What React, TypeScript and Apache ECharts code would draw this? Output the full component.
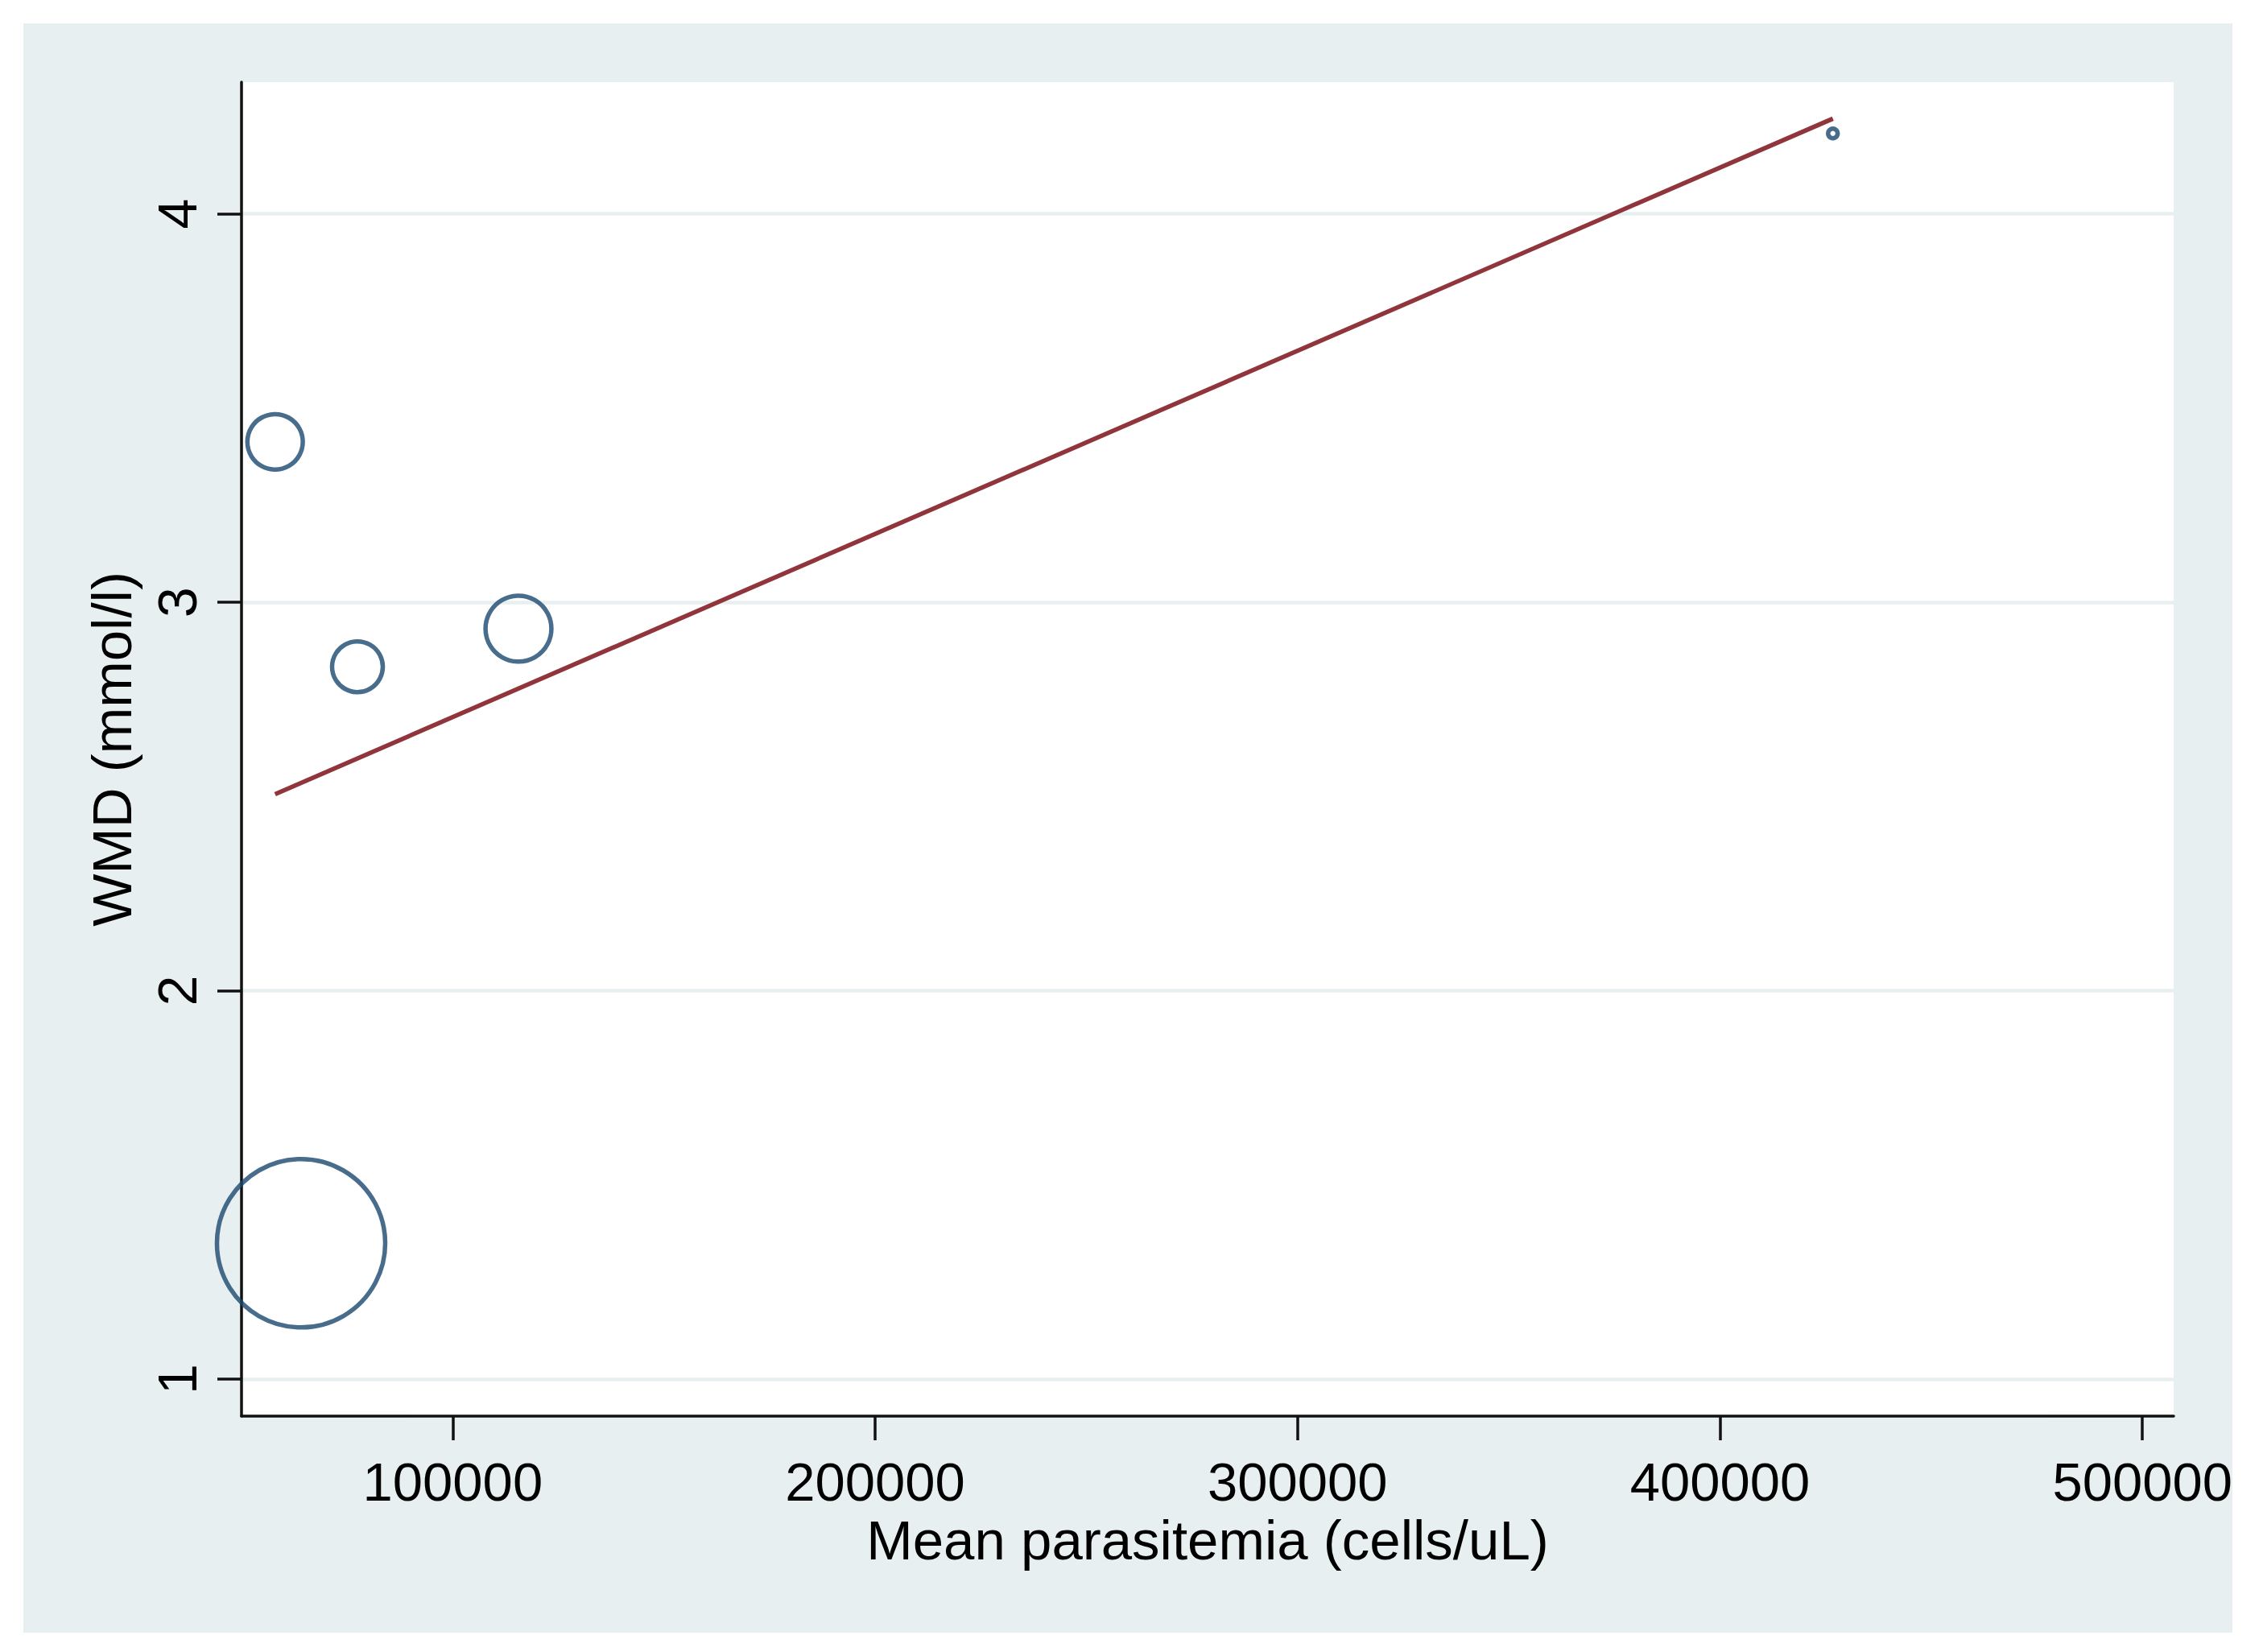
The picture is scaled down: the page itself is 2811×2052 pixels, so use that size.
import React, { useEffect, useRef } from "react";
import * as echarts from "echarts";

// Study-level data (meta-regression bubble plot)
const parasitemia = [57947, 77444, 115561, 64103, 426730];
const wmd = [3.413, 2.834, 2.932, 1.35, 4.207];
const studyWeight = [8.0, 6.7, 11.3, 73.7, 0.24];

// Fitted regression line end points
const fitX = [57947, 426730];
const fitY = [2.506, 4.245];

// Axis ticks and ranges
const xTicks = [100000, 200000, 300000, 400000, 500000];
const yTicks = [1, 2, 3, 4];
const xRange = [50000, 507400];
const yRange = [0.905, 4.339];

const xTitle = "Mean parasitemia (cells/uL)";
const yTitle = "WMD (mmol/l)";

const FONT = "'Liberation Sans', Arial, sans-serif";
const BG = "#e8eff1";

export default function App() {
  const ref = useRef<HTMLDivElement>(null);

  useEffect(() => {
    if (!ref.current) return;
    const chart = echarts.init(ref.current, undefined, { renderer: "svg" });
    const sizeOf = (w: number) => 24.35 * Math.sqrt(w);

    chart.setOption({
      animation: false,
      grid: {
        left: 300,
        right: 111,
        top: 102,
        bottom: 293,
        show: true,
        backgroundColor: "#ffffff",
        borderWidth: 0,
      },
      xAxis: {
        type: "value",
        min: xRange[0],
        max: xRange[1],
        z: 8,
        name: xTitle,
        nameLocation: "middle",
        nameGap: 110,
        nameTextStyle: { fontFamily: FONT, fontSize: 69, color: "#000" },
        axisLine: { show: true, onZero: false, lineStyle: { color: "#111", width: 3.5 } },
        axisTick: { show: true, length: 30, customValues: xTicks, lineStyle: { color: "#111", width: 3.5 } },
        axisLabel: {
          show: true,
          customValues: xTicks,
          margin: 48,
          fontFamily: FONT,
          fontSize: 67,
          color: "#000",
          formatter: (v: number) => String(v),
        },
        splitLine: { show: false },
      },
      yAxis: {
        type: "value",
        min: yRange[0],
        max: yRange[1],
        z: 8,
        name: yTitle,
        nameLocation: "middle",
        nameRotate: 90,
        nameGap: 126,
        nameTextStyle: { fontFamily: FONT, fontSize: 69, color: "#000" },
        axisLine: { show: true, onZero: false, lineStyle: { color: "#111", width: 3.5 } },
        axisTick: { show: true, length: 30, customValues: yTicks, lineStyle: { color: "#111", width: 3.5 } },
        axisLabel: {
          show: true,
          customValues: yTicks,
          rotate: 90,
          margin: 46,
          fontFamily: FONT,
          fontSize: 68,
          color: "#000",
          formatter: (v: number) => String(v),
        },
        splitLine: { show: false },
      },
      series: [
        {
          type: "line",
          z: 10,
          data: fitX.map((x, i) => [x, fitY[i]]),
          symbol: "none",
          lineStyle: { color: "#90353b", width: 5.5 },
          silent: true,
          markLine: {
            silent: true,
            symbol: ["none", "none"],
            label: { show: false },
            lineStyle: { color: BG, width: 4.5, type: "solid" },
            data: yTicks.map((v) => ({ yAxis: v })),
          },
        },
        {
          type: "scatter",
          z: 11,
          data: parasitemia.map((x, i) => ({
            value: [x, wmd[i]],
            symbolSize: sizeOf(studyWeight[i]),
          })),
          symbol: "circle",
          itemStyle: { color: "rgba(0,0,0,0)", borderColor: "#1a476f", borderWidth: 5.5 },
          silent: true,
        },
      ],
    });

    return () => chart.dispose();
  }, []);

  return (
    <div style={{ position: "absolute", left: 0, top: 0, width: 2811, height: 2052, background: "#fff" }}>
      <div style={{ position: "absolute", left: 29, top: 29, width: 2744, height: 1999, background: BG }} />
      <div ref={ref} style={{ position: "absolute", left: 0, top: 0, width: 2811, height: 2052 }} />
    </div>
  );
}
